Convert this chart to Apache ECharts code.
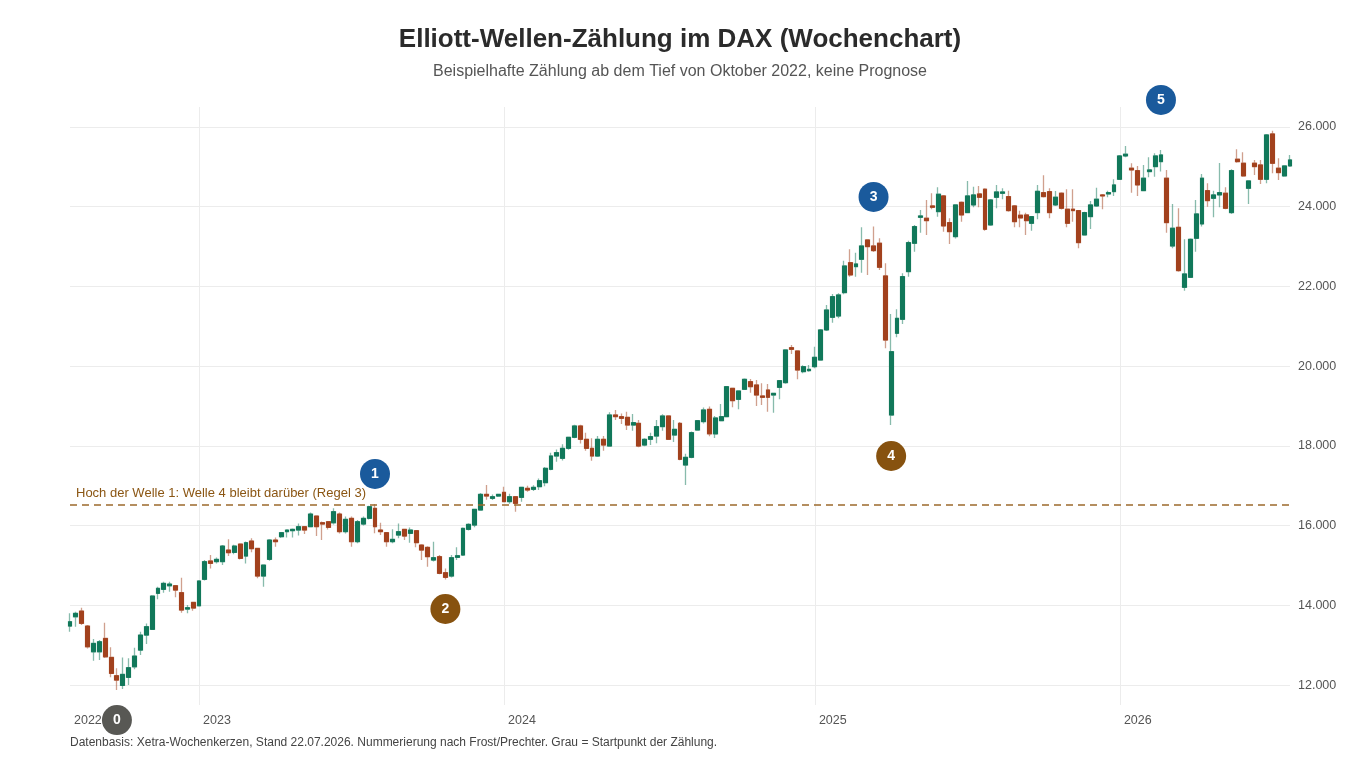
<!DOCTYPE html>
<html><head><meta charset="utf-8">
<script src="https://cdn.jsdelivr.net/npm/echarts@6/dist/echarts.min.js"></script>
<style>html,body{margin:0;padding:0;background:#fff}#c{width:1360px;height:760px}</style>
</head><body><div id="c"></div><script>
// ---- data ----
const firstWeek = '2022-08-01';   // Monday of first weekly candle
const weekCount = 209;
const opens = [13480,13714,13856,13480,12835,12835,13170,12694,12234,11990,12193,12459,12877,13254,13397,14300,14401,14491,14491,14317,13906,14074,13990,14652,15112,15095,15095,15387,15328,15537,15236,15613,15428,14735,15153,15638,15721,15847,15872,15889,15972,15972,16240,16072,16097,16072,16290,15847,16182,15596,16039,16182,16433,15889,15822,15596,15763,15906,15805,15872,15512,15454,15136,15220,14818,14735,15204,15262,15906,16014,16391,16784,16684,16742,16835,16600,16724,16709,16935,16910,16976,17076,17412,17746,17688,17939,18215,18498,18165,17939,17746,18165,17996,18774,18732,18716,18523,18565,18021,18165,18247,18482,18749,18272,18565,17520,17713,18398,18607,18917,18300,18631,18732,19444,19167,19419,19610,19527,19251,19401,19276,19468,19585,20463,20380,19861,19886,19986,20154,20907,21225,21258,21843,22595,22495,22681,23165,23014,23082,22262,18774,20824,21175,22370,23082,23734,23709,24018,23875,24269,23600,23248,24110,23851,24043,24319,24437,23541,24236,24336,24252,24018,23785,23792,23584,23851,24352,24377,24043,24336,23935,23935,23901,23290,23750,24018,24294,24319,24377,24688,25272,24964,24904,24402,24879,25004,25129,24713,23014,23483,21978,22229,23208,23566,24402,24211,24294,24336,23851,25189,25089,24462,25089,25046,24688,25824,24964,24771,25021];
const closes = [13588,13799,13548,12961,13045,13086,12709,12293,12125,12268,12435,12727,13254,13463,14233,14426,14551,14534,14383,13882,13940,13932,14610,15095,15053,15153,15487,15320,15487,15178,15571,15420,14735,15010,15638,15596,15822,15889,15906,15972,15889,16290,15972,16039,15956,16348,15847,16157,15596,16097,16182,16474,15972,15847,15596,15655,15847,15738,15889,15571,15387,15220,15194,14802,14702,15194,15244,15931,16031,16408,16784,16742,16724,16784,16600,16724,16558,16960,16893,16960,17126,17437,17746,17829,17939,18215,18498,18165,17939,17746,18165,18021,18774,18732,18691,18523,18582,17996,18165,18231,18482,18749,18165,18415,17662,17713,18330,18631,18900,18302,18699,18732,19484,19133,19376,19670,19484,19276,19218,19218,19318,19635,20405,20422,19903,19986,19920,20222,20907,21408,21743,21785,22512,22287,22563,23014,22997,22897,22480,20655,20362,21200,22245,23098,23500,23767,23649,23985,24311,23516,23373,24043,23792,24269,24294,24236,23433,24168,24369,24369,23901,23624,23717,23649,23750,24386,24252,23851,24236,23960,23584,23901,23098,23851,24043,24186,24269,24352,24545,25272,25315,24921,24545,24713,24921,25272,25297,23600,23458,22395,22312,23182,23817,24713,24151,24294,24352,23960,24904,25129,24771,24645,25004,24688,25799,25089,24854,25021,25172];
const lows = [13337,13463,13505,12920,12610,12627,12680,12193,11874,11900,12000,12394,12753,13028,13380,14150,14318,14342,14200,13814,13799,13865,13970,14620,14927,15050,15010,15236,15280,15150,15050,15330,14677,14466,15120,15470,15690,15700,15700,15750,15790,15960,15738,15638,15900,16030,15800,15800,15470,15560,16000,16150,15806,15763,15470,15560,15680,15640,15571,15454,15136,14968,15100,14780,14651,14700,15136,15240,15880,15960,16380,16650,16640,16720,16590,16550,16349,16600,16850,16870,16890,16990,17390,17600,17630,17900,18190,18060,17878,17628,17720,17878,17990,18649,18549,18398,18381,17963,17990,18020,18064,18380,18150,18100,17640,17018,17690,18380,18560,18240,18200,18620,18720,18967,18917,19400,19334,19000,19025,18858,18833,19167,19560,20305,19670,19820,19860,19945,20140,20880,21090,21200,21800,22245,22245,22344,22287,22860,22412,20448,18523,20724,21057,22245,22871,23348,23290,23935,23750,23373,23064,23200,23624,23840,23985,23985,23398,23520,23960,24186,23875,23483,23483,23290,23398,23684,24230,23709,24018,23930,23483,23624,22957,23280,23441,24000,23935,24236,24269,24670,25240,24352,24269,24390,24738,24753,24879,23348,22957,22370,21893,22210,22871,23500,24001,23734,23985,23935,23817,25104,24750,24068,24796,24570,24587,24838,24670,24750,25004];
const highs = [13799,13839,13940,13505,13153,13128,13563,12946,12419,12694,12670,12936,13337,13547,14250,14467,14593,14593,14509,14693,14007,14090,14630,15136,15262,15200,15512,15655,15520,15540,15600,15680,15430,15010,15660,15700,15830,15900,15930,16050,15990,16330,16240,16100,16097,16433,16330,16230,16230,16140,16230,16500,16541,16072,15840,15906,16055,15910,15950,15880,15530,15480,15596,15260,14927,15260,15454,15950,16060,16420,16820,17018,16780,16800,16976,16800,16724,16970,17000,17010,17180,17470,17830,17910,18040,18230,18530,18530,18330,18190,18250,18247,18842,18900,18810,18858,18799,18650,18190,18330,18649,18790,18760,18649,18600,17800,18360,18650,18960,18990,18750,19050,19500,19460,19390,19690,19680,19652,19569,19552,19330,19650,20420,20530,20390,20020,20029,20488,20930,21534,21810,21830,22645,22931,22846,23484,23170,23500,23208,22580,21308,21426,22329,23148,23541,23918,24168,24337,24487,24290,23709,24060,24130,24645,24502,24520,24460,24190,24545,24462,24402,24040,23900,23850,23760,24545,24788,24462,24394,24360,24437,24437,23910,23870,24144,24477,24319,24402,24688,25297,25523,25089,25021,25047,25240,25340,25423,24921,24068,23960,23182,23200,24168,24821,24587,24402,25097,24487,24939,25440,25365,24653,25172,25172,25824,25907,25215,25040,25297];
const yTicks = [12000,14000,16000,18000,20000,22000,24000,26000];
const waveNames = ['0','1','2','3','4','5'];
const waveWeekIndex = [8,52,64,137,140,186];
const waveLabelValues = [11123,17295,13908,24244,17746,26677];
const waveKinds = ['start','impulse','correction','impulse','correction','impulse'];
const wave1High = 16528;

// ---- build ----
const weeks = [];
{ const d0 = new Date(firstWeek + 'T00:00:00Z');
  for (let i = 0; i < weekCount; i++) {
    const d = new Date(d0.getTime() + i * 7 * 86400000);
    weeks.push(d.toISOString().slice(0, 10));
  } }
const yearStart = new Set();
weeks.forEach((w, i) => { if (i === 0 || w.slice(0,4) !== weeks[i-1].slice(0,4)) yearStart.add(i); });

const UP = '#11785a', DOWN = '#a2411d';
const UP_W = 'rgba(17,120,90,0.5)', DOWN_W = 'rgba(162,65,29,0.5)';
const kindColor = { start: '#585854', impulse: '#1a5a9c', correction: '#87520f' };
const FONT = '"Liberation Sans", Arial, Helvetica, sans-serif';

const full = weeks.map((w, i) => [opens[i], closes[i], lows[i], highs[i]]);
const bodies = weeks.map((w, i) => [opens[i], closes[i], Math.min(opens[i], closes[i]), Math.max(opens[i], closes[i])]);
const waves = waveNames.map((n, k) => ({
  value: [waveWeekIndex[k], waveLabelValues[k]], name: n,
  itemStyle: { color: kindColor[waveKinds[k]], opacity: 1 }
}));

const chart = echarts.init(document.getElementById('c'), null, { renderer: 'canvas' });
chart.setOption({
  animation: false,
  backgroundColor: '#ffffff',
  textStyle: { fontFamily: FONT },
  title: [
    { text: 'Elliott-Wellen-Zählung im DAX (Wochenchart)', left: 'center', top: 22,
      textStyle: { fontSize: 26, fontWeight: 'bold', color: '#2b2b2b', fontFamily: FONT } },
    { text: 'Beispielhafte Zählung ab dem Tief von Oktober 2022, keine Prognose', left: 'center', top: 59,
      textStyle: { fontSize: 16, fontWeight: 'normal', color: '#555', fontFamily: FONT } },
    { text: 'Datenbasis: Xetra-Wochenkerzen, Stand 22.07.2026. Nummerierung nach Frost/Prechter. Grau = Startpunkt der Zählung.',
      left: 70, top: 737, padding: 0, textStyle: { fontSize: 12, fontWeight: 'normal', color: '#444', fontFamily: FONT } }
  ],
  grid: { left: 70, right: 70, top: 107, height: 598 },
  xAxis: {
    type: 'category', data: weeks, boundaryGap: false,
    axisLine: { show: false }, axisTick: { show: false },
    axisLabel: {
      interval: (i) => yearStart.has(i), formatter: (v) => v.slice(0, 4),
      align: 'left', padding: [0, 0, 0, 4], margin: 9,
      color: '#555', fontSize: 12.5, fontFamily: FONT
    },
    splitLine: { show: true, interval: (i) => yearStart.has(i) && i > 0, lineStyle: { color: '#ececec', width: 1 } }
  },
  yAxis: {
    type: 'value', position: 'right', min: 11500, max: 26500, interval: 500,
    axisLine: { show: false }, axisTick: { show: false },
    axisLabel: {
      margin: 8, color: '#555', fontSize: 12.5, fontFamily: FONT, padding: [4, 0, 0, 0],
      formatter: (v) => yTicks.includes(v) ? v.toLocaleString('de-DE') : ''
    },
    splitLine: { show: true, lineStyle: { color: ['rgba(0,0,0,0)', '#ececec', 'rgba(0,0,0,0)', 'rgba(0,0,0,0)'], width: 1 } }
  },
  series: [
    { type: 'candlestick', data: full, barWidth: 4.4, clip: false, z: 3,
      itemStyle: { color: UP_W, color0: DOWN_W, borderColor: UP_W, borderColor0: DOWN_W, borderWidth: 1.3 },
      markLine: {
        silent: true, symbol: 'none', animation: false,
        lineStyle: { color: '#9c6a2c', type: [7, 5], width: 1.6 },
        label: { show: true, position: 'insideStartTop', formatter: 'Hoch der Welle 1: Welle 4 bleibt darüber (Regel 3)',
          color: '#8b5613', fontSize: 13, fontFamily: FONT, distance: [6, 5] },
        data: [{ yAxis: wave1High }]
      } },
    { type: 'candlestick', data: bodies, barWidth: 4.4, clip: false, z: 4,
      itemStyle: { color: UP, color0: DOWN, borderColor: UP, borderColor0: DOWN, borderWidth: 1 } },
    { type: 'scatter', data: waves, symbol: 'circle', symbolSize: 30, clip: false, z: 6,
      itemStyle: { opacity: 1 },
      emphasis: { disabled: true },
      label: { show: true, position: 'inside', formatter: (p) => p.name, color: '#fff', fontWeight: 'bold', fontSize: 14, fontFamily: FONT } }
  ]
});
</script></body></html>
